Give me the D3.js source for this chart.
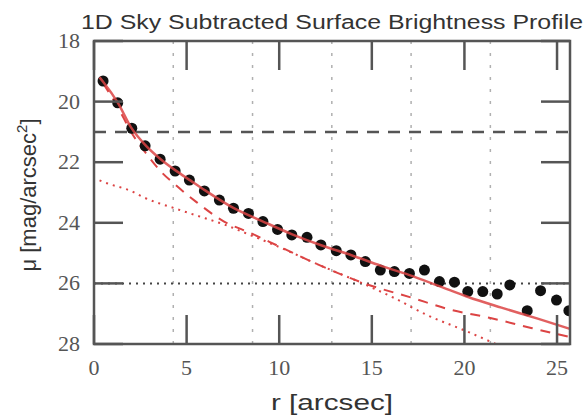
<!DOCTYPE html>
<html>
<head>
<meta charset="utf-8">
<script src="https://d3js.org/d3.v7.min.js"></script>
<style>
  body { margin: 0; background: #fff; }
</style>
</head>
<body>
<div id="chart"></div>
<script>
// measured profile points (r in arcsec, mu in mag/arcsec^2)
var obsR = [0.49, 1.28, 2.04, 2.76, 3.57, 4.38, 5.15, 5.96, 6.77, 7.53, 8.34, 9.12, 9.91,
            10.68, 11.5, 12.25, 13.08, 13.87, 14.65, 15.46, 16.22, 17.03, 17.84, 18.65,
            19.46, 20.18, 20.99, 21.77, 22.45, 23.39, 24.11, 24.97, 25.64];
var obsMu = [19.32, 20.04, 20.88, 21.46, 21.9, 22.29, 22.59, 22.95, 23.25, 23.52, 23.69, 23.96, 24.22,
             24.4, 24.48, 24.73, 24.92, 25.06, 25.28, 25.56, 25.61, 25.67, 25.56, 25.94,
             25.96, 26.27, 26.27, 26.35, 26.05, 26.9, 26.24, 26.55, 26.9];

// total model (solid)
var totR  = [0.3, 0.5, 1.3, 2.0, 2.8, 3.6, 4.4, 5.2, 6.0, 7.5, 9.1, 10.7, 12.3, 13.9, 15.5, 17.0, 18.6, 20.2, 22.0, 24.0, 25.7];
var totMu = [19.2, 19.35, 20.05, 20.85, 21.45, 21.9, 22.27, 22.6, 22.93, 23.5, 23.95, 24.38, 24.75, 25.07, 25.42, 25.72, 26.08, 26.45, 26.8, 27.17, 27.5];

// component 1 (dashed)
var cmp1R  = [0.5, 1.3, 2.0, 2.8, 3.6, 4.4, 5.5, 7.0, 8.5, 10.0, 12.0, 14.5, 17.2, 19.2, 21.4, 23.6, 25.7];
var cmp1Mu = [19.4, 20.2, 21.0, 21.7, 22.3, 22.75, 23.3, 23.95, 24.35, 24.78, 25.35, 25.98, 26.48, 26.86, 27.14, 27.47, 27.77];

// component 2 (dotted)
var cmp2R  = [0.3, 0.5, 2.1, 2.65, 4.5, 6.0, 7.0, 8.5, 10.0, 12.0, 14.5, 16.2, 18.0, 20.0, 21.7];
var cmp2Mu = [22.6, 22.65, 22.98, 23.15, 23.55, 23.85, 24.05, 24.42, 24.8, 25.35, 26.0, 26.48, 27.05, 27.55, 28.0];

var xTicks = [0, 5, 10, 15, 20, 25];
var yTicks = [18, 20, 22, 24, 26, 28];
var gridR = [4.28, 8.56, 12.84, 17.12, 21.4];
var hDashMu = 21.0;
var hDotMu = 26.0;

function drawChart() {
    var width = 587, height = 419;
    var mLeft = 94, mRight = 570, mTop = 41, mBottom = 344;
    var red = "#dc4444";

    var svg = d3.select("#chart").append("svg")
        .attr("width", width)
        .attr("height", height);

    var xScale = d3.scaleLinear().domain([0, 25.7]).range([mLeft, mRight]);
    var yScale = d3.scaleLinear().domain([18, 28]).range([mTop, mBottom]);

    svg.append("defs").append("clipPath").attr("id", "clip")
        .append("rect")
        .attr("x", mLeft).attr("y", mTop)
        .attr("width", mRight - mLeft).attr("height", mBottom - mTop);

    var plot = svg.append("g").attr("clip-path", "url(#clip)");

    // vertical grid
    plot.selectAll(".grid").data(gridR).enter().append("line")
        .attr("x1", function(d){ return xScale(d); })
        .attr("x2", function(d){ return xScale(d); })
        .attr("y1", mTop).attr("y2", mBottom)
        .style("stroke", "#b0b0b0")
        .style("stroke-width", 1.5)
        .style("stroke-dasharray", "3,9");

    // horizontal reference lines
    plot.append("line")
        .attr("x1", mLeft).attr("x2", mRight)
        .attr("y1", yScale(hDashMu)).attr("y2", yScale(hDashMu))
        .style("stroke", "#555").style("stroke-width", 2.5)
        .style("stroke-dasharray", "12,9");

    plot.append("line")
        .attr("x1", mLeft).attr("x2", mRight)
        .attr("y1", yScale(hDotMu)).attr("y2", yScale(hDotMu))
        .style("stroke", "#444").style("stroke-width", 2)
        .style("stroke-dasharray", "2,5");

    var line = d3.line()
        .x(function(d){ return xScale(d[0]); })
        .y(function(d){ return yScale(d[1]); })
        .curve(d3.curveMonotoneX);

    plot.append("path")
        .datum(d3.zip(cmp2R, cmp2Mu))
        .attr("d", line)
        .style("fill", "none").style("stroke", red)
        .style("stroke-width", 2).style("stroke-dasharray", "2,5");

    plot.append("path")
        .datum(d3.zip(cmp1R, cmp1Mu))
        .attr("d", line)
        .style("fill", "none").style("stroke", red)
        .style("stroke-width", 2).style("stroke-dasharray", "10,8");

    // points
    plot.selectAll(".pt").data(d3.zip(obsR, obsMu)).enter().append("circle")
        .attr("cx", function(d){ return xScale(d[0]); })
        .attr("cy", function(d){ return yScale(d[1]); })
        .attr("r", 5.5)
        .style("fill", "#111");

    plot.append("path")
        .datum(d3.zip(totR, totMu))
        .attr("d", line)
        .style("fill", "none").style("stroke", red)
        .style("stroke-width", 2.5).style("opacity", 0.85);

    // frame and inner ticks
    var tickLen = 29;
    var frame = svg.append("g").style("stroke", "#555").style("stroke-width", 2.5);

    frame.selectAll(".xb").data(xTicks).enter().append("line")
        .attr("x1", function(d){ return xScale(d); }).attr("x2", function(d){ return xScale(d); })
        .attr("y1", mBottom).attr("y2", mBottom - tickLen);
    frame.selectAll(".xt").data(xTicks).enter().append("line")
        .attr("x1", function(d){ return xScale(d); }).attr("x2", function(d){ return xScale(d); })
        .attr("y1", mTop).attr("y2", mTop + tickLen);
    frame.selectAll(".yl").data(yTicks).enter().append("line")
        .attr("y1", function(d){ return yScale(d); }).attr("y2", function(d){ return yScale(d); })
        .attr("x1", mLeft).attr("x2", mLeft + tickLen);
    frame.selectAll(".yr").data(yTicks).enter().append("line")
        .attr("y1", function(d){ return yScale(d); }).attr("y2", function(d){ return yScale(d); })
        .attr("x1", mRight).attr("x2", mRight - tickLen);

    frame.append("rect")
        .attr("x", mLeft).attr("y", mTop)
        .attr("width", mRight - mLeft).attr("height", mBottom - mTop)
        .style("fill", "none");

    // tick labels
    svg.selectAll(".xl").data(xTicks).enter().append("text")
        .attr("x", function(d){ return xScale(d); })
        .attr("y", 375)
        .attr("text-anchor", "middle")
        .style("font-family", "'Liberation Serif', 'DejaVu Serif', serif")
        .style("font-size", "22px")
        .style("fill", "#555")
        .text(function(d){ return d; });

    svg.selectAll(".ylab").data(yTicks).enter().append("text")
        .attr("x", 80)
        .attr("y", function(d){ return yScale(d) + 7; })
        .attr("text-anchor", "end")
        .style("font-family", "'Liberation Serif', 'DejaVu Serif', serif")
        .style("font-size", "22px")
        .style("fill", "#555")
        .text(function(d){ return d; });

    // titles
    svg.append("text")
        .attr("x", 332).attr("y", 29)
        .attr("text-anchor", "middle")
        .attr("textLength", 502)
        .attr("lengthAdjust", "spacingAndGlyphs")
        .style("font-family", "'Liberation Sans', Arial, sans-serif")
        .style("font-size", "20px")
        .style("fill", "#333")
        .text("1D Sky Subtracted Surface Brightness Profile");

    svg.append("text")
        .attr("x", 332).attr("y", 410)
        .attr("text-anchor", "middle")
        .attr("textLength", 122)
        .attr("lengthAdjust", "spacingAndGlyphs")
        .style("font-family", "'Liberation Sans', Arial, sans-serif")
        .style("font-size", "22px")
        .style("fill", "#333")
        .text("r [arcsec]");

    var yl = svg.append("text")
        .attr("transform", "translate(36,195) rotate(-90)")
        .attr("text-anchor", "middle")
        .style("font-family", "'Liberation Sans', Arial, sans-serif")
        .style("font-size", "22px")
        .style("fill", "#333");
    yl.append("tspan").text("\u03bc [mag/arcsec");
    yl.append("tspan").attr("dy", -9).style("font-size", "15px").text("2");
    yl.append("tspan").attr("dy", 9).text("]");
}

drawChart();
</script>
</body>
</html>
